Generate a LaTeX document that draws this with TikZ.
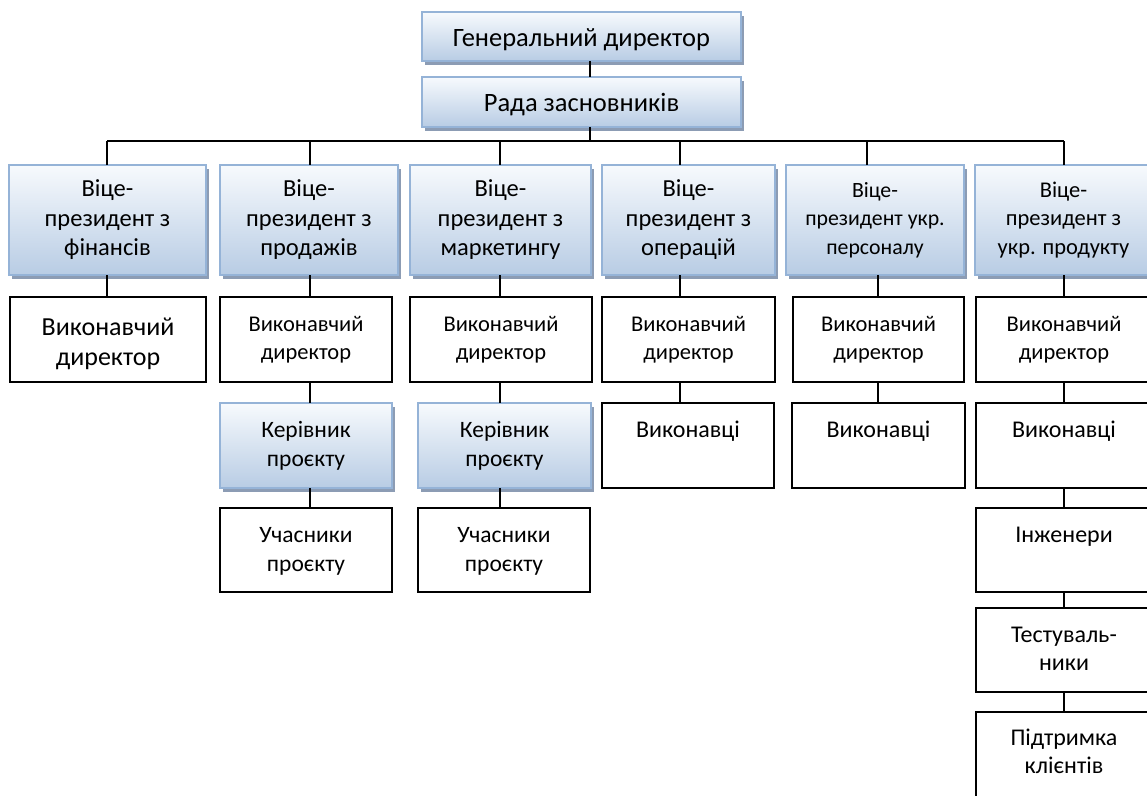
\documentclass[tikz,border=0pt]{standalone}
\usepackage{fontspec}
\setmainfont{Carlito}
\usetikzlibrary{shadows}
\definecolor{gtop}{RGB}{247,250,253}
\definecolor{gbot}{RGB}{184,204,228}
\definecolor{gline}{RGB}{149,179,215}
\definecolor{shad}{RGB}{140,156,180}
\newcommand\fTitle{\fontsize{26.5}{31}\selectfont}
\newcommand\fRada{\fontsize{26.5}{31}\selectfont}
\newcommand\fVp{\fontsize{24.5}{29.5}\selectfont}
\newcommand\fVfive{\fontsize{21.8}{28.5}\selectfont}
\newcommand\fVsix{\fontsize{22.5}{28.5}\selectfont}
\newcommand\fDir{\fontsize{22.5}{27.5}\selectfont}
\newcommand\fK{\fontsize{23.5}{29}\selectfont}
\newcommand\fW{\fontsize{24}{28.5}\selectfont}
\newcommand\fBig{\fontsize{26}{30}\selectfont}
\newcommand\lowr[1]{\raisebox{-3pt}[\height][\depth]{#1}}
\begin{document}
\begin{tikzpicture}[x=1pt,y=-1pt,
 gbox/.style={draw=gline, line width=2pt, top color=gtop, bottom color=gbot,
   inner sep=0pt, outer sep=0pt, align=center,
   drop shadow={shadow xshift=3pt, shadow yshift=-4pt, fill=shad, opacity=1}},
 wbox/.style={draw=black, line width=1.6pt, fill=white, inner sep=0pt, outer sep=0pt},
 wtext/.style={anchor=north, inner sep=0pt, align=center, font=\fW},
 dtext/.style={wtext, font=\fDir},
 conn/.style={line width=1.6pt, draw=black},
]
\useasboundingbox (0,0) rectangle (1147,795);

% column x coordinates of connectors
\coordinate (xc) at (590,0);
\coordinate (bus) at (0,141);
\coordinate (a1) at (107,0);
\coordinate (a2) at (310,0);
\coordinate (a3) at (500,0);
\coordinate (a4) at (680,0);
\coordinate (a5) at (867,0);
\coordinate (a6) at (1064,0);
\coordinate (b5) at (878,0);

% top
\node[gbox, minimum width=319pt, minimum height=49pt, font=\fTitle] (gd) at (581.5,36.5) {\lowr{Генеральний директор}};
\node[gbox, minimum width=319pt, minimum height=50pt, font=\fRada] (rada) at (581.5,102) {\lowr{Рада засновників}};

% level 1
\node[gbox, minimum width=197pt, minimum height=110pt, font=\fVp] (v1) at (107.5,220) {Віце-\\президент з\\фінансів};
\node[gbox, minimum width=178pt, minimum height=110pt, font=\fVp] (v2) at (309,220) {Віце-\\президент з\\продажів};
\node[gbox, minimum width=181pt, minimum height=110pt, font=\fVp] (v3) at (500.5,220) {Віце-\\президент з\\маркетингу};
\node[gbox, minimum width=173pt, minimum height=110pt, font=\fVp] (v4) at (688.5,220) {Віце-\\президент з\\операцій};
\node[gbox, minimum width=178pt, minimum height=110pt, font=\fVfive] (v5) at (875,220) {Віце-\\президент укр.\\персоналу};
\node[gbox, minimum width=177pt, minimum height=110pt, font=\fVsix] (v6) at (1063.5,220) {Віце-\\президент з\\укр. продукту};

% level 2
\node[wbox, minimum width=196pt, minimum height=85pt] (e1) at (108,339.5) {};
\node[wbox, minimum width=172pt, minimum height=85pt] (e2) at (306,339.5) {};
\node[wbox, minimum width=182pt, minimum height=85pt] (e3) at (501,339.5) {};
\node[wbox, minimum width=173pt, minimum height=85pt] (e4) at (688.5,339.5) {};
\node[wbox, minimum width=171pt, minimum height=85pt] (e5) at (878.5,339.5) {};
\node[wbox, minimum width=176pt, minimum height=85pt] (e6) at (1064,339.5) {};
\node[wtext, font=\fBig] (e1t) at ([yshift=-17pt]e1.north) {\strut Виконавчий\\директор};
\node[dtext] (e2t) at ([yshift=-15.5pt]e2.north) {\strut Виконавчий\\директор};
\node[dtext] (e3t) at ([yshift=-15.5pt]e3.north) {\strut Виконавчий\\директор};
\node[dtext] (e4t) at ([yshift=-15.5pt]e4.north) {\strut Виконавчий\\директор};
\node[dtext] (e5t) at ([yshift=-15.5pt]e5.north) {\strut Виконавчий\\директор};
\node[dtext] (e6t) at ([yshift=-15.5pt]e6.north) {\strut Виконавчий\\директор};

% level 3
\node[gbox, minimum width=172pt, minimum height=85pt, font=\fK] (k2) at (306,445.5) {Керівник\\проєкту};
\node[gbox, minimum width=173pt, minimum height=85pt, font=\fK] (k3) at (504.5,445.5) {Керівник\\проєкту};
\node[wbox, minimum width=172pt, minimum height=85pt] (w4) at (688,445.5) {};
\node[wbox, minimum width=173pt, minimum height=85pt] (w5) at (878.5,445.5) {};
\node[wbox, minimum width=176pt, minimum height=85pt] (w6) at (1064,445.5) {};
\node[wtext] (w4t) at ([yshift=-14pt]w4.north) {\strut Виконавці};
\node[wtext] (w5t) at ([yshift=-14pt]w5.north) {\strut Виконавці};
\node[wtext] (w6t) at ([yshift=-14pt]w6.north) {\strut Виконавці};

% level 4
\node[wbox, minimum width=172pt, minimum height=84pt] (u2) at (306,550) {};
\node[wbox, minimum width=172pt, minimum height=84pt] (u3) at (504,550) {};
\node[wbox, minimum width=176pt, minimum height=84pt] (i6) at (1064,550) {};
\node[wtext, font=\fK] (u2t) at ([yshift=-14pt]u2.north) {\strut Учасники\\проєкту};
\node[wtext, font=\fK] (u3t) at ([yshift=-14pt]u3.north) {\strut Учасники\\проєкту};
\node[wtext] (i6t) at ([yshift=-14pt]i6.north) {\strut Інженери};

% level 5, 6
\node[wbox, minimum width=176pt, minimum height=84pt] (t6) at (1064,650) {};
\node[wtext] (t6t) at ([yshift=-14pt]t6.north) {\strut Тестуваль-\\ники};
\node[wbox, minimum width=176pt, minimum height=96pt] (p6) at (1064,760) {};
\node[wtext] (p6t) at ([yshift=-13pt]p6.north) {\strut Підтримка\\клієнтів};

% connectors
\draw[conn] (gd.south -| xc) -- (rada.north -| xc);
\draw[conn] (rada.south -| xc) -- (bus -| xc);
\draw[conn] (bus -| a1) -- (bus -| a6);
\foreach \i in {1,...,6} {
  \draw[conn] (bus -| a\i) -- (v\i.north -| a\i);
}
\draw[conn] (v1.south -| a1) -- (e1.north -| a1);
\draw[conn] (v2.south -| a2) -- (e2.north -| a2);
\draw[conn] (v3.south -| a3) -- (e3.north -| a3);
\draw[conn] (v4.south -| a4) -- (e4.north -| a4);
\draw[conn] (v5.south -| b5) -- (e5.north -| b5);
\draw[conn] (v6.south -| a6) -- (e6.north -| a6);
\draw[conn] (e2.south -| a2) -- (k2.north -| a2);
\draw[conn] (e3.south -| a3) -- (k3.north -| a3);
\draw[conn] (e4.south -| a4) -- (w4.north -| a4);
\draw[conn] (e5.south -| b5) -- (w5.north -| b5);
\draw[conn] (e6.south -| a6) -- (w6.north -| a6);
\draw[conn] (k2.south -| a2) -- (u2.north -| a2);
\draw[conn] (k3.south -| a3) -- (u3.north -| a3);
\draw[conn] (w6.south -| a6) -- (i6.north -| a6);
\draw[conn] (i6.south -| a6) -- (t6.north -| a6);
\draw[conn] (t6.south -| a6) -- (p6.north -| a6);
\end{tikzpicture}
\end{document}
